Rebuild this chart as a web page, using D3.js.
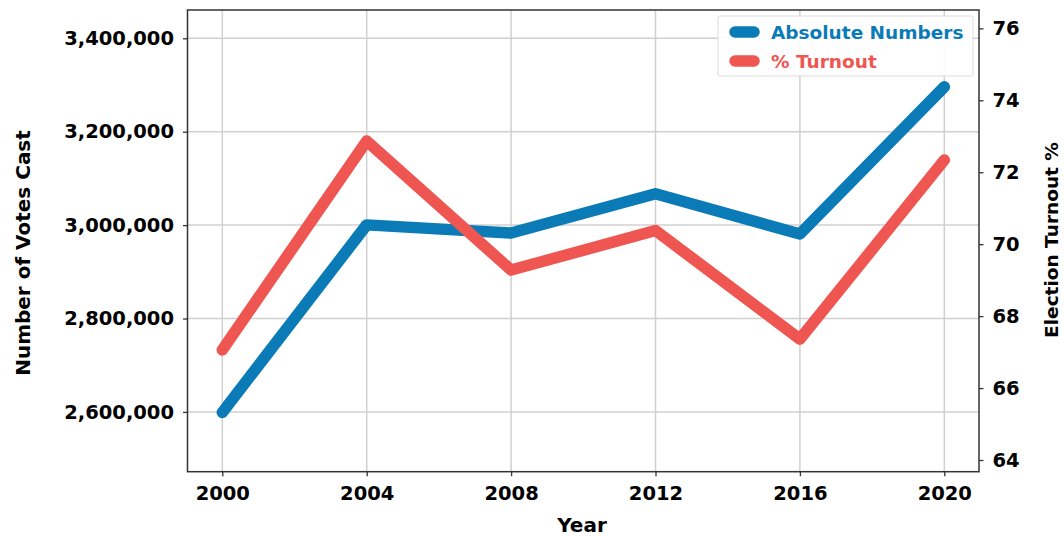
<!DOCTYPE html>
<html>
<head>
<meta charset="utf-8">
<script src="https://cdn.jsdelivr.net/npm/d3@7"></script>
<style>
  html, body { margin: 0; padding: 0; background: #fff; }
  svg { display: block; }
  text { font-family: "DejaVu Sans", sans-serif; font-weight: bold; }
</style>
</head>
<body>
<svg id="chart" width="1064" height="536"></svg>
<script>
// ---- data ----
const years = [2000, 2004, 2008, 2012, 2016, 2020];
const votesCast = [2599000, 3000500, 2983000, 3067000, 2981000, 3296000];
const turnoutPct = [67.06, 72.87, 69.28, 70.38, 67.36, 72.34];
const leftTicks = [2600000, 2800000, 3000000, 3200000, 3400000];
const rightTicks = [64, 66, 68, 70, 72, 74, 76];
const seriesNames = ["Absolute Numbers", "% Turnout"];
const seriesColors = ["#0a7bb6", "#ef5651"];
const votesDomain = [2472000, 3460600];
const pctDomain = [63.675, 76.51];
const yearDomain = [2000, 2020];

// ---- layout ----
const plot = { left: 187.5, right: 979, top: 10, bottom: 471.7 };
const svg = d3.select("#chart");

const x = d3.scaleLinear().domain(yearDomain).range([222.3, 944.3]);
const yL = d3.scaleLinear().domain(votesDomain).range([plot.bottom, plot.top]);
const yR = d3.scaleLinear().domain(pctDomain).range([plot.bottom, plot.top]);

// gridlines
const grid = svg.append("g");
grid.selectAll("line.v").data(years).join("line")
  .attr("x1", d => x(d)).attr("x2", d => x(d))
  .attr("y1", plot.top).attr("y2", plot.bottom)
  .attr("stroke", "#d0d0d0").attr("stroke-width", 1.5);
grid.selectAll("line.h").data(leftTicks).join("line")
  .attr("x1", plot.left).attr("x2", plot.right)
  .attr("y1", d => yL(d)).attr("y2", d => yL(d))
  .attr("stroke", "#d0d0d0").attr("stroke-width", 1.5);

// lines
const lineL = d3.line().x((d, i) => x(years[i])).y(d => yL(d));
const lineR = d3.line().x((d, i) => x(years[i])).y(d => yR(d));
svg.append("path").datum(votesCast).attr("d", lineL)
  .attr("fill", "none").attr("stroke", seriesColors[0]).attr("stroke-width", 11.5)
  .attr("stroke-linecap", "round").attr("stroke-linejoin", "round");
svg.append("path").datum(turnoutPct).attr("d", lineR)
  .attr("fill", "none").attr("stroke", seriesColors[1]).attr("stroke-width", 11.5)
  .attr("stroke-linecap", "round").attr("stroke-linejoin", "round");

// axes
const fontSize = "19.5px";
const axL = svg.append("g").attr("transform", `translate(${plot.left},0)`)
  .call(d3.axisLeft(yL).tickValues(leftTicks).tickFormat(d3.format(",")).tickSizeOuter(0).tickSize(4.5).tickPadding(9));
const axR = svg.append("g").attr("transform", `translate(${plot.right},0)`)
  .call(d3.axisRight(yR).tickValues(rightTicks).tickFormat(d3.format("d")).tickSizeOuter(0).tickSize(4.5).tickPadding(9));
const axB = svg.append("g").attr("transform", `translate(0,${plot.bottom})`)
  .call(d3.axisBottom(x).tickValues(years).tickFormat(d3.format("d")).tickSizeOuter(0).tickSize(4.5).tickPadding(10));
[axL, axR, axB].forEach(a => {
  a.select(".domain").remove();
  a.selectAll(".tick line").attr("stroke", "#333").attr("stroke-width", 1.3);
  a.selectAll(".tick text").attr("fill", "#000").style("font-size", fontSize)
    .style("font-family", "'DejaVu Sans', sans-serif").style("font-weight", "bold");
});

// spines
svg.append("rect")
  .attr("x", plot.left).attr("y", plot.top)
  .attr("width", plot.right - plot.left).attr("height", plot.bottom - plot.top)
  .attr("fill", "none").attr("stroke", "#333").attr("stroke-width", 1.5);

// axis titles
svg.append("text").attr("transform", "translate(30,253) rotate(-90)")
  .attr("text-anchor", "middle").style("font-size", "20px").attr("fill", "#000")
  .text("Number of Votes Cast");
svg.append("text").attr("transform", "translate(1058,240) rotate(-90)")
  .attr("text-anchor", "middle").style("font-size", "18.5px").attr("fill", "#000")
  .text("Election Turnout %");
svg.append("text").attr("x", 582).attr("y", 531.5)
  .attr("text-anchor", "middle").style("font-size", "20px").attr("fill", "#000")
  .text("Year");

// legend
const lg = svg.append("g");
lg.append("rect").attr("x", 718).attr("y", 16).attr("width", 255).attr("height", 60)
  .attr("rx", 2).attr("fill", "#fff").attr("fill-opacity", 0.9)
  .attr("stroke", "#dcdcdc").attr("stroke-width", 1);
seriesNames.forEach((name, i) => {
  const cy = 32 + i * 29;
  lg.append("line").attr("x1", 735).attr("x2", 754).attr("y1", cy).attr("y2", cy)
    .attr("stroke", seriesColors[i]).attr("stroke-width", 11.5).attr("stroke-linecap", "round");
  lg.append("text").attr("x", 771).attr("y", cy + 6.5)
    .style("font-size", "18.5px").attr("fill", seriesColors[i]).text(name);
});
</script>
</body>
</html>
